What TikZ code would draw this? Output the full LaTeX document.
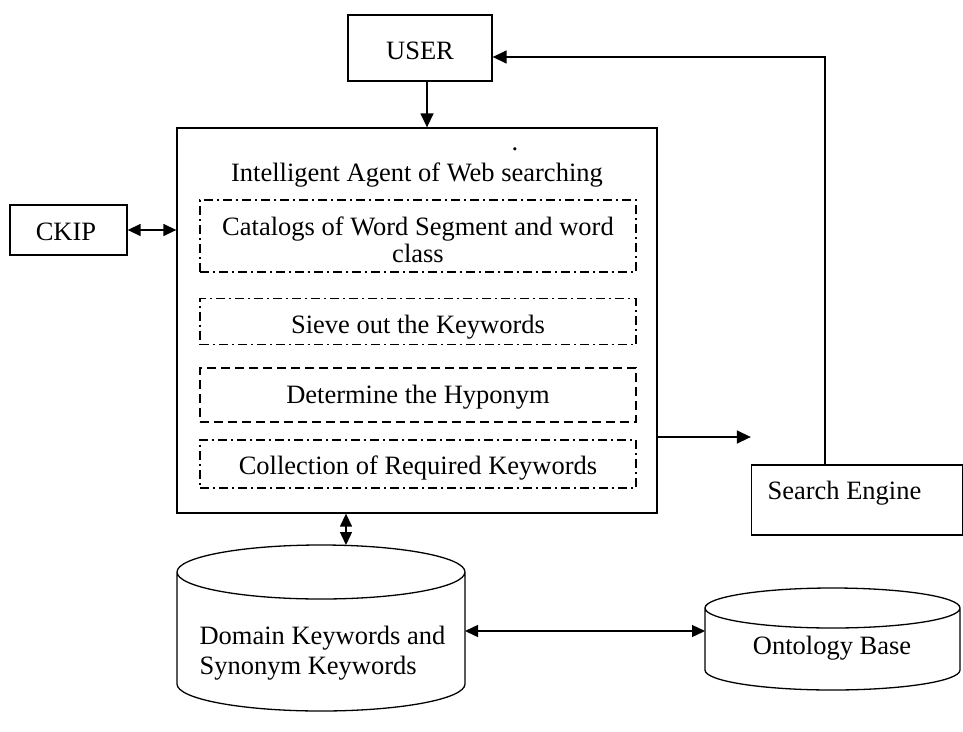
\documentclass[tikz,border=0pt]{standalone}
\usepackage{fontspec}
\setmainfont{Liberation Serif}
\usetikzlibrary{arrows.meta}
\tikzset{
  every node/.style={font=\fontsize{26.5}{28}\selectfont},
  plainbox/.style={draw, line width=1.3pt, inner sep=0pt},
  dashdotbox/.style={draw, line width=1.1pt, dash pattern=on 9pt off 4pt on 2pt off 4pt},
  dashbox/.style={draw, line width=1.1pt, dash pattern=on 9pt off 5pt},
  flow/.style={line width=1.4pt, -{Triangle[length=14pt,width=13pt]}},
  twoway/.style={line width=1.4pt, {Triangle[length=13pt,width=12pt]}-{Triangle[length=13pt,width=12pt]}},
  cyl/.style={line width=1.3pt}
}
\begin{document}
\begin{tikzpicture}[x=1pt,y=-1pt]
\useasboundingbox (0,0) rectangle (963,731);

% top-level boxes
\node[plainbox, minimum width=144pt, minimum height=66pt] (user) at (420,48) {};
\node (usertext) at (420,51) {USER};
\node[plainbox, minimum width=480pt, minimum height=385pt] (agent) at (417,320.5) {};
\node[plainbox, minimum width=117pt, minimum height=50pt] (ckip) at (68.5,230) {};
\node (ckiptext) at (66,232) {CKIP};
\node[plainbox, minimum width=211pt, minimum height=70pt] (engine) at (857,500) {};
\node[anchor=west] (enginetext) at (764,493) {Search Engine};

% agent contents
\node (agenttitle) at (417,175) {Intelligent Agent of Web searching};
\node[anchor=base] (stray) at (515,150) {.};
\node[dashdotbox, minimum width=436pt, minimum height=72pt] (catalog) at (418,236) {};
\node[align=center, font=\fontsize{26.5}{27}\selectfont] (catalogtext) at (418,240)
  {Catalogs of Word Segment and word\\class};
\node[dashdotbox, minimum width=436pt, minimum height=46pt] (sieve) at (418,321.5) {};
\node (sievetext) at (418,327) {Sieve out the Keywords};
\node[dashbox, minimum width=436pt, minimum height=54pt] (hypo) at (418,395) {};
\node (hypotext) at (418,397) {Determine the Hyponym};
\node[dashdotbox, minimum width=436pt, minimum height=48pt] (collect) at (418,464) {};
\node (collecttext) at (418,468) {Collection of Required Keywords};

% cylinders
\draw[cyl] (177,572) arc[start angle=180, end angle=-180, x radius=144, y radius=27]
  -- (177,684) arc[start angle=180, end angle=0, x radius=144, y radius=27] -- (465,572);
\coordinate (dbtop) at (346,545);
\coordinate (dbright) at (465,631);
\node[align=left, anchor=west, font=\fontsize{26.5}{30}\selectfont] (dbtext) at (196,653)
  {Domain Keywords and\\Synonym Keywords};

\draw[cyl] (705,608) arc[start angle=180, end angle=-180, x radius=127.5, y radius=20]
  -- (705,670) arc[start angle=180, end angle=0, x radius=127.5, y radius=20] -- (960,608);
\coordinate (ontoleft) at (705,631);
\node (ontotext) at (832,648) {Ontology Base};

% connectors
\draw[flow] (user.south -| 427,0) -- (agent.north -| 427,0);
\draw[twoway] (ckip.east) -- (agent.west |- ckip.east);
\draw[flow] (agent.east |- 0,437) -- (engine.west |- 0,437);
\coordinate (bend) at (825,57);
\draw[flow] (engine.north -| bend) -- (bend) -- (user.east |- bend);
\draw[twoway] (agent.south -| dbtop) -- (dbtop);
\draw[twoway] (dbright) -- (ontoleft);
\end{tikzpicture}
\end{document}
